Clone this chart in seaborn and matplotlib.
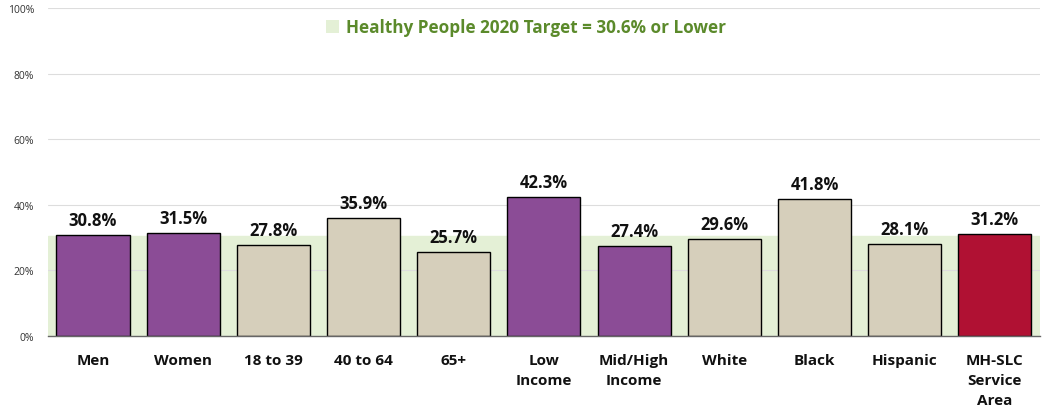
import pandas as pd
import seaborn as sns
import matplotlib.pyplot as plt
from matplotlib.patches import Patch

categories = ["Men", "Women", "18 to 39", "40 to 64", "65+", "Low\nIncome",
              "Mid/High\nIncome", "White", "Black", "Hispanic",
              "MH-SLC\nService\nArea"]
values = [30.8, 31.5, 27.8, 35.9, 25.7, 42.3, 27.4, 29.6, 41.8, 28.1, 31.2]
groups = ["purple", "purple", "beige", "beige", "beige", "purple", "purple",
          "beige", "beige", "beige", "red"]
target = 30.6
target_label = "Healthy People 2020 Target = 30.6% or Lower"

group_colors = {"purple": "#8B4C96", "beige": "#D6CFBB", "red": "#B01133"}

df = pd.DataFrame({"category": categories, "value": values, "group": groups})

sns.set_style("white")
plt.rcParams["font.family"] = ["Open Sans", "DejaVu Sans"]

fig = plt.figure(figsize=(10.42, 4.10), dpi=100)
ax = fig.add_axes([0.046, 0.178, 0.952, 0.8])

# target band
ax.axhspan(0, target, color="#E4F0D6", zorder=0)

sns.barplot(data=df, x="category", y="value", hue="group",
            palette=group_colors, dodge=False, legend=False, saturation=1,
            edgecolor="black", linewidth=1.0, width=0.81, ax=ax, zorder=3)

for i, v in enumerate(values):
    ax.text(i, v + 1.8, f"{v:.1f}%", ha="center", va="bottom",
            fontsize=12, fontweight="bold", color="#111111", zorder=4)

ax.set_ylim(0, 100)
ax.set_xlim(-0.5, len(categories) - 0.5)
ax.set_yticks(range(0, 101, 20))
ax.set_yticklabels([f"{t}%" for t in range(0, 101, 20)], fontsize=7.5, color="#333333")
ax.yaxis.grid(True, color="#DDDDDD", linewidth=0.8, zorder=1)
ax.set_axisbelow(True)
ax.tick_params(axis="y", length=0, pad=10)
ax.tick_params(axis="x", length=0, pad=12)
ax.set_xticks(range(len(categories)))
ax.set_xticklabels(categories, fontsize=11, fontweight="bold", color="#111111",
                   linespacing=1.55, va="top")
ax.set_xlabel("")
ax.set_ylabel("")
for s in ["top", "right", "left"]:
    ax.spines[s].set_visible(False)
ax.spines["bottom"].set_color("#666666")
ax.spines["bottom"].set_linewidth(1.0)
ax.spines["bottom"].set_zorder(5)

leg = ax.legend(handles=[Patch(facecolor="#E4F0D6", edgecolor="none", label=target_label)],
                loc="upper center", bbox_to_anchor=(0.482, 1.016), frameon=False,
                handlelength=0.8, handleheight=0.8, handletextpad=0.4,
                prop={"size": 12.3, "weight": "bold"})
for t in leg.get_texts():
    t.set_color("#5B8A2B")

fig.savefig("out.png", dpi=100)
